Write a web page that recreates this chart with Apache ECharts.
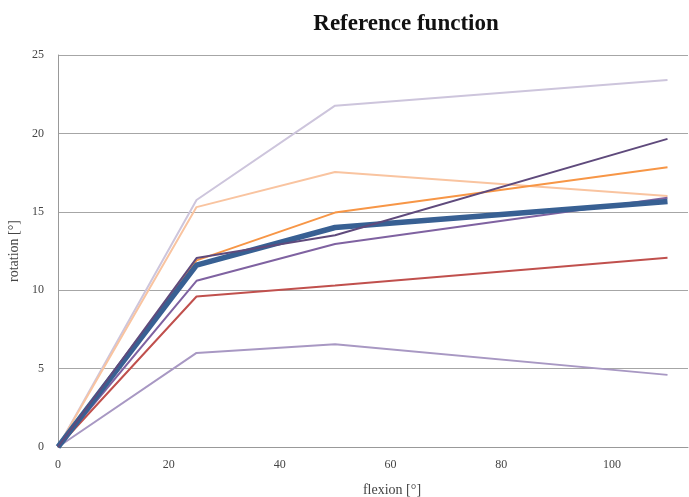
<!DOCTYPE html>
<html>
<head>
<meta charset="utf-8">
<script src="https://cdn.jsdelivr.net/npm/echarts@6/dist/echarts.min.js"></script>
<style>html,body{margin:0;padding:0;background:#fff}#c{width:689px;height:497px}</style>
</head>
<body>
<div id="c"></div>
<script>
const flexion = [0, 25, 50, 110];
const sLavender = [0, 15.75, 21.77, 23.4];
const sPeach = [0, 15.3, 17.54, 16.0];
const sDarkPurple = [0, 12.05, 13.5, 19.65];
const sOrange = [0, 11.9, 14.95, 17.84];
const sMedPurple = [0, 10.6, 12.95, 15.9];
const sRed = [0, 9.6, 10.3, 12.07];
const sLightPurple = [0, 6.0, 6.55, 4.6];
const sReference = [0, 11.6, 14.0, 15.65];
const yTicks = [0, 5, 10, 15, 20, 25];
const xTicks = [0, 20, 40, 60, 80, 100];

const serif = '"Liberation Serif", "DejaVu Serif", serif';
function pts(v){ return flexion.map((x,i)=>[x,v[i]]); }
function line(name, data, color, width, z){
  return {name, type:'line', data:pts(data), symbol:'none', z:z||2,
    lineStyle:{color, width}, itemStyle:{color}, animation:false};
}
const chart = echarts.init(document.getElementById('c'));
chart.setOption({
  title:{text:'Reference function', left:401, top:8, textAlign:'center',
    textStyle:{fontFamily:serif, fontSize:23, fontWeight:'bold', color:'#111'}},
  grid:{left:58, top:55, right:1, bottom:50, outerBoundsMode:'none', containLabel:false},
  xAxis:{type:'value', min:0, max:113.7, interval:20,
    name:'flexion [°]', nameLocation:'middle', nameGap:36,
    nameTextStyle:{fontFamily:serif, fontSize:14, color:'#444', padding:[0,0,0,38]},
    axisLine:{show:true, lineStyle:{color:'#999'}},
    axisTick:{show:false}, splitLine:{show:false},
    axisLabel:{fontFamily:serif, fontSize:12, color:'#444', margin:12, showMaxLabel:false,
      formatter:v=>xTicks.includes(v)?String(v):''}},
  yAxis:{type:'value', min:0, max:25, interval:5,
    name:'rotation [°]', nameLocation:'middle', nameGap:31,
    nameTextStyle:{fontFamily:serif, fontSize:14, color:'#444'},
    axisLine:{show:true, lineStyle:{color:'#999'}},
    axisTick:{show:false},
    splitLine:{show:true, lineStyle:{color:'#a6a6a6', width:1}},
    axisLabel:{fontFamily:serif, fontSize:12, color:'#444', margin:14,
      formatter:v=>yTicks.includes(v)?String(v):''}},
  series:[
    line('s1', sLavender, '#cdc5dc', 2),
    line('s2', sPeach, '#f9c4a0', 2),
    line('s7', sLightPurple, '#a898c3', 2),
    line('s6', sRed, '#c0504d', 2),
    line('s5', sMedPurple, '#7f62a1', 2),
    line('s4', sOrange, '#f79646', 2),
    line('ref', sReference, '#386093', 5.5, 3),
    line('s3', sDarkPurple, '#5f4a7c', 2, 4)
  ]
});
</script>
</body>
</html>
